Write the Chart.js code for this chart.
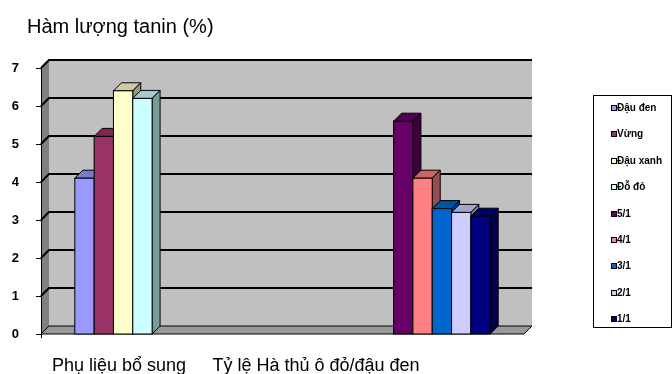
<!DOCTYPE html>
<html>
<head>
<meta charset="utf-8">
<script src="https://cdn.jsdelivr.net/npm/chart.js@4/dist/chart.umd.min.js"></script>
<style>
  html, body { margin: 0; padding: 0; background: #fff; }
  #wrap { width: 672px; height: 374px; position: relative; }
</style>
</head>
<body>
<div id="wrap"><canvas id="tanin"></canvas></div>
<script>
// data
const categories = ['Phụ liệu bổ sung', 'Tỷ lệ Hà thủ ô đỏ/đậu đen'];
const seriesNames = ['Đậu đen', 'Vừng', 'Đậu xanh', 'Đỗ đỏ', '5/1', '4/1', '3/1', '2/1', '1/1'];
const phuLieu = [4.1, 5.2, 6.4, 6.2];          // first group
const tyLe = [5.6, 4.1, 3.3, 3.2, 3.1];        // second group
const yTicks = [0, 1, 2, 3, 4, 5, 6, 7];

const fronts = ['#9999FF', '#993366', '#FFFFCC', '#CCFFFF', '#660066', '#FF8080', '#0066CC', '#CCCCFF', '#000080'];

function shade(hex, f) {
    const n = parseInt(hex.slice(1), 16);
    const r = Math.round(((n >> 16) & 255) * f);
    const g = Math.round(((n >> 8) & 255) * f);
    const b = Math.round((n & 255) * f);
    return `rgb(${r},${g},${b})`;
}

const datasets = seriesNames.map((name, i) => ({
    label: name,
    data: i < phuLieu.length ? [phuLieu[i], null] : [null, tyLe[i - phuLieu.length]],
    backgroundColor: fronts[i],
    borderColor: '#000',
    borderWidth: 1,
    barPercentage: 1,
    categoryPercentage: 0.72
}));

const D = 8; // depth of the 3d look

// back wall, side wall, floor and grid lines
const wallPlugin = {
    id: 'wall',
    beforeDatasetsDraw(chart) {
        const { ctx, chartArea: a, scales: { y } } = chart;
        const top = y.getPixelForValue(7), bot = y.getPixelForValue(0);
        ctx.save();
        ctx.fillStyle = '#C0C0C0';
        ctx.fillRect(a.left + D, top - D, a.right - a.left, bot - top);
        ctx.fillStyle = '#808080';
        ctx.beginPath();
        ctx.moveTo(a.left, top); ctx.lineTo(a.left + D, top - D);
        ctx.lineTo(a.left + D, bot - D); ctx.lineTo(a.left, bot);
        ctx.closePath(); ctx.fill();
        ctx.fillStyle = '#999999';
        ctx.beginPath();
        ctx.moveTo(a.left, bot); ctx.lineTo(a.left + D, bot - D);
        ctx.lineTo(a.right + D, bot - D); ctx.lineTo(a.right, bot);
        ctx.closePath(); ctx.fill();
        ctx.strokeStyle = '#000';
        ctx.lineWidth = 1;
        ctx.stroke();
        ctx.lineWidth = 2;
        yTicks.forEach(v => {
            if (v === 0) return;
            const py = y.getPixelForValue(v);
            ctx.beginPath();
            ctx.moveTo(a.left, py); ctx.lineTo(a.left + D, py - D);
            ctx.lineTo(a.right + D, py - D);
            ctx.stroke();
        });
        ctx.lineWidth = 1;
        ctx.beginPath();
        ctx.moveTo(a.left + 0.5, top); ctx.lineTo(a.left + 0.5, bot + 4);
        yTicks.forEach(v => {
            const py = Math.round(y.getPixelForValue(v)) + 0.5;
            ctx.moveTo(a.left - 5, py); ctx.lineTo(a.left, py);
        });
        ctx.stroke();
        ctx.restore();
    },
    afterDatasetsDraw(chart) {
        const { ctx } = chart;
        const bars = [];
        chart.data.datasets.forEach((ds, i) => {
            chart.getDatasetMeta(i).data.forEach((el, j) => {
                if (ds.data[j] == null) return;
                bars.push({ el, c: fronts[i] });
            });
        });
        bars.sort((p, q) => p.el.x - q.el.x);
        ctx.save();
        ctx.strokeStyle = '#000';
        ctx.lineWidth = 1;
        bars.forEach(({ el, c }) => {
            const l = el.x - el.width / 2, r = el.x + el.width / 2, t = el.y, b = el.base;
            // top face
            ctx.fillStyle = shade(c, 0.8);
            ctx.beginPath();
            ctx.moveTo(l, t); ctx.lineTo(l + D, t - D); ctx.lineTo(r + D, t - D); ctx.lineTo(r, t);
            ctx.closePath(); ctx.fill(); ctx.stroke();
            // side face
            ctx.fillStyle = shade(c, 0.6);
            ctx.beginPath();
            ctx.moveTo(r, t); ctx.lineTo(r + D, t - D); ctx.lineTo(r + D, b - D); ctx.lineTo(r, b);
            ctx.closePath(); ctx.fill(); ctx.stroke();
            // front face
            ctx.fillStyle = c;
            ctx.fillRect(l, t, r - l, b - t);
            ctx.strokeRect(l, t, r - l, b - t);
        });
        ctx.restore();
    },
    afterDraw(chart) {
        const { ctx } = chart;
        ctx.save();
        ctx.fillStyle = '#000';
        ctx.textBaseline = 'alphabetic';
        ctx.font = '20px Arial, "Liberation Sans"';
        ctx.fillText('Hàm lượng tanin (%)', 27, 33);
        // category labels sit left of their groups as in the original
        ctx.font = '18px Arial, "Liberation Sans"';
        ctx.textAlign = 'center';
        ctx.fillText(categories[0], 119, 371);
        ctx.fillText(categories[1], 316, 371);
        // legend
        ctx.textAlign = 'left';
        ctx.strokeStyle = '#000';
        ctx.lineWidth = 1;
        ctx.strokeRect(593.5, 95.5, 78, 232);
        ctx.font = 'bold 10px Arial, "Liberation Sans"';
        ctx.textBaseline = 'middle';
        chart.data.datasets.forEach((ds, i) => {
            const py = Math.round(108 + i * 26.4);
            ctx.fillStyle = fronts[i];
            ctx.fillRect(611, py - 3, 6, 6);
            ctx.strokeRect(611.5, py - 2.5, 5, 5);
            ctx.fillStyle = '#000';
            ctx.fillText(ds.label, 617, py + 0.5);
        });
        ctx.restore();
    }
};

new Chart(document.getElementById('tanin'), {
    type: 'bar',
    data: { labels: categories, datasets },
    options: {
        responsive: true,
        maintainAspectRatio: false,
        animation: false,
        layout: { padding: { left: 0, top: 68, right: 148, bottom: 40 } },
        plugins: { legend: { display: false }, tooltip: { enabled: false } },
        scales: {
            x: { display: false },
            y: {
                min: 0, max: 7,
                afterFit(scale) { scale.width = 41; },
                ticks: {
                    stepSize: 1,
                    padding: 22,
                    color: '#000',
                    font: { family: 'Arial, "Liberation Sans"', size: 13, weight: 'bold' }
                },
                grid: { display: false, drawTicks: false },
                border: { display: false }
            }
        }
    },
    plugins: [wallPlugin]
});
</script>
</body>
</html>
